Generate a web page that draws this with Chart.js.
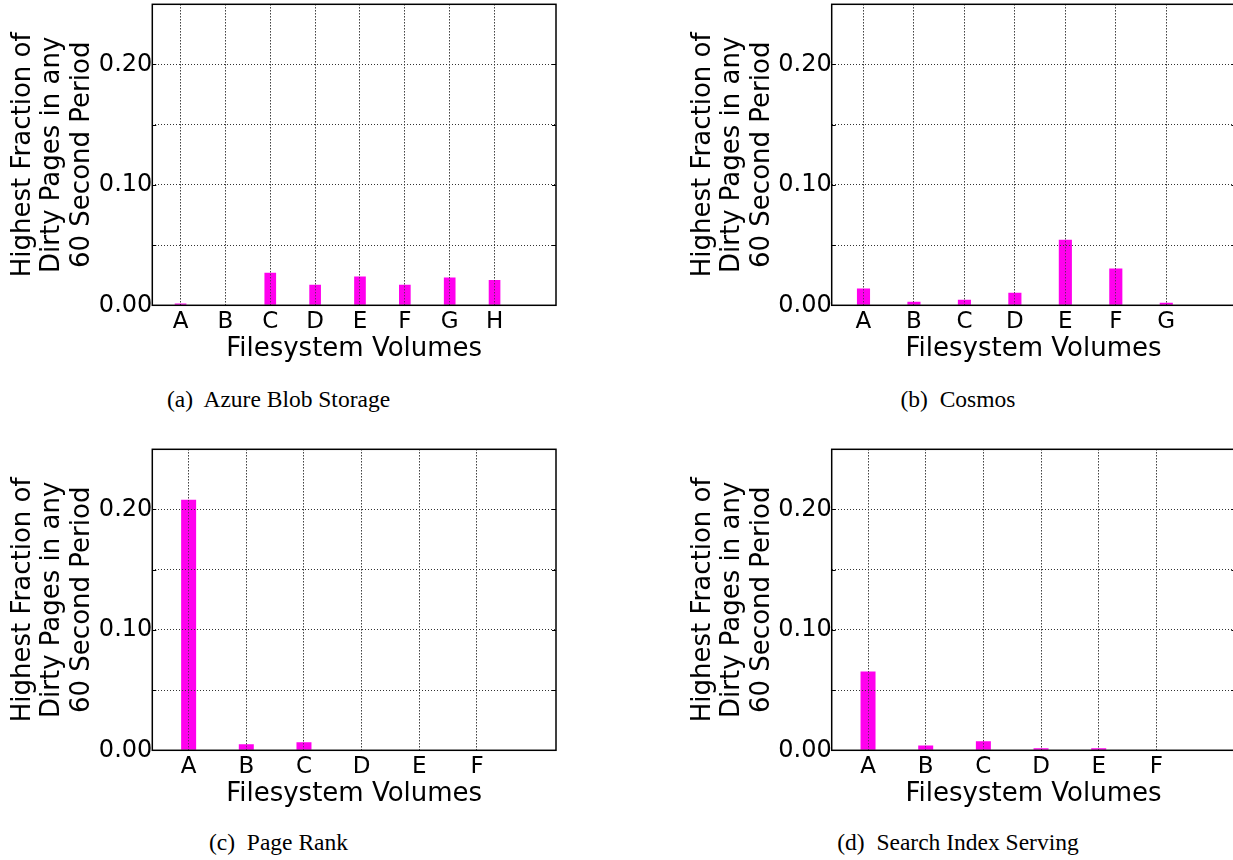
<!DOCTYPE html>
<html>
<head>
<meta charset="utf-8">
<script src="https://cdn.jsdelivr.net/npm/chart.js@4.4.1/dist/chart.umd.min.js"></script>
<style>
html,body{margin:0;padding:0;background:#fff;overflow:hidden;width:1233px;height:860px;position:relative;}
canvas{position:absolute;}
.cap{position:absolute;font-family:"Liberation Serif","Times New Roman",serif;font-size:23.5px;line-height:23px;text-align:center;color:#000;white-space:pre;}
</style>
</head>
<body>
<canvas id="pa" width="620" height="380" style="left:0px;top:0px"></canvas>
<canvas id="pb" width="560" height="380" style="left:680px;top:0px"></canvas>
<canvas id="pc" width="620" height="380" style="left:0px;top:445px"></canvas>
<canvas id="pd" width="560" height="380" style="left:680px;top:445px"></canvas>
<div class="cap" style="left:0px;top:388px;width:557px">(a)  Azure Blob Storage</div>
<div class="cap" style="left:680px;top:388px;width:556px">(b)  Cosmos</div>
<div class="cap" style="left:0px;top:831px;width:557px">(c)  Page Rank</div>
<div class="cap" style="left:680px;top:831px;width:556px">(d)  Search Index Serving</div>
<script>
// ---- data ----
const volumesAzure = ['A','B','C','D','E','F','G','H'];
const azureBlob    = [0.0015, 0, 0.027, 0.017, 0.024, 0.017, 0.023, 0.021];

const volumesCosmos = ['A','B','C','D','E','F','G'];
const cosmos        = [0.014, 0.003, 0.0047, 0.0105, 0.0545, 0.0305, 0.0022];

const volumesPageRank = ['A','B','C','D','E','F'];
const pageRank        = [0.208, 0.005, 0.0066, 0, 0, 0];

const volumesSearch = ['A','B','C','D','E','F'];
const searchIndex   = [0.0655, 0.004, 0.0075, 0.0017, 0.0017, 0];

const yTickLabels = ['0.00','0.10','0.20'];
const yTitle = ['Highest Fraction of','Dirty Pages in any','60 Second Period'];
const xTitle = 'Filesystem Volumes';

const BAR = '#ff00ee';

const overlay = {
  id: 'overlay',
  afterDatasetsDraw(chart) {
    const {ctx, chartArea: a, scales: {x, y}} = chart;
    // grid drawn over the bars, as in the original
    x.drawGrid(a);
    y.drawGrid(a);
    ctx.save();
    ctx.strokeStyle = '#000';
    ctx.lineWidth = 1.5;
    ctx.setLineDash([]);
    ctx.strokeRect(a.left, a.top, a.right - a.left, a.bottom - a.top);
    ctx.lineWidth = 1;
    y.ticks.forEach(t => {
      const py = Math.round(y.getPixelForValue(t.value)) + 0.5;
      ctx.beginPath();
      ctx.moveTo(a.left, py); ctx.lineTo(a.left + 4, py);
      ctx.moveTo(a.right, py); ctx.lineTo(a.right - 4, py);
      ctx.stroke();
    });
    ctx.restore();
  }
};

function makePanel(id, cats, vals, yAxisWidth, rightPad) {
  const ctx = document.getElementById(id);
  return new Chart(ctx, {
    type: 'bar',
    data: {
      datasets: [{
        data: vals.map((v, i) => ({x: i, y: v})),
        backgroundColor: BAR,
        borderWidth: 0,
        categoryPercentage: 1,
        barPercentage: 0.26
      }]
    },
    options: {
      responsive: false,
      animation: false,
      events: [],
      layout: {padding: {left: 0, top: 4.3, right: rightPad, bottom: 14.7}},
      plugins: {legend: {display: false}, tooltip: {enabled: false}, title: {display: false}},
      scales: {
        x: {
          type: 'linear',
          offset: false,
          min: -0.63,
          max: cats.length + 0.37,
          grid: {offset: false, color: '#333', lineWidth: 1, drawTicks: false},
          border: {display: false, dash: [1, 2]},
          afterBuildTicks: s => { s.ticks = cats.map((c, i) => ({value: i})); },
          ticks: {
            autoSkip: false, maxRotation: 0, padding: 3, color: '#000',
            font: {family: 'DejaVu Sans', size: 23},
            callback: (v, i) => cats[i]
          },
          title: {display: true, text: xTitle, color: '#000', padding: 0,
                  font: {family: 'DejaVu Sans', size: 26, lineHeight: 1.2}},
          afterFit: s => { s.height = 60; s.paddingLeft = 0; s.paddingRight = 0; }
        },
        y: {
          min: 0, max: 0.25,
          grid: {color: '#333', lineWidth: 1, drawTicks: false},
          border: {display: false, dash: [1, 2]},
          afterBuildTicks: s => { s.ticks = [0, 0.05, 0.10, 0.15, 0.20, 0.25].map(v => ({value: v})); },
          ticks: {
            padding: 0, color: '#000',
            font: {family: 'DejaVu Sans', size: 24},
            callback: v => { const l = v.toFixed(2); return yTickLabels.includes(l) ? l : ''; }
          },
          title: {display: true, text: yTitle, color: '#000', padding: {top: 8, bottom: 0},
                  font: {family: 'DejaVu Sans', size: 26, lineHeight: 1.14}},
          afterFit: s => { s.width = yAxisWidth; s.paddingTop = 0; s.paddingBottom = 0; }
        }
      }
    },
    plugins: [overlay]
  });
}

const W = 403.7;
makePanel('pa', volumesAzure, azureBlob, 152.3, 620 - 152.3 - W);
makePanel('pb', volumesCosmos, cosmos, 151.7, 560 - 151.7 - W);
makePanel('pc', volumesPageRank, pageRank, 152.3, 620 - 152.3 - W);
makePanel('pd', volumesSearch, searchIndex, 151.7, 560 - 151.7 - W);
</script>
</body>
</html>
